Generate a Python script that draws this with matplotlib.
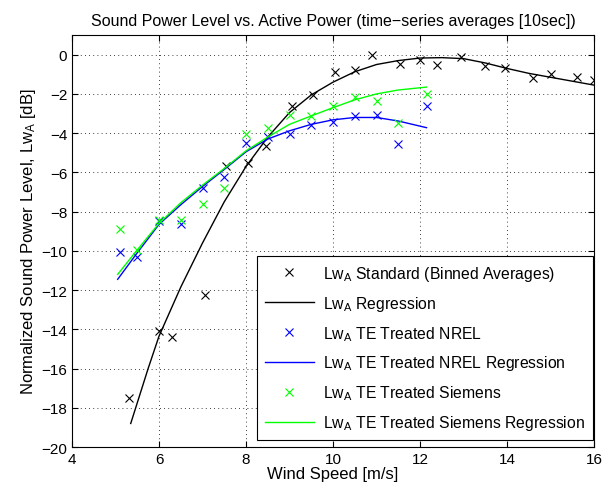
import matplotlib
matplotlib.use("Agg")

import matplotlib.pyplot as plt

plt.rcParams['font.family'] = ['Liberation Sans', 'DejaVu Sans']
plt.rcParams['mathtext.fontset'] = 'custom'
plt.rcParams['mathtext.rm'] = 'Liberation Sans'
plt.rcParams['mathtext.it'] = 'Liberation Sans'

# Standard (binned averages)
std_ws = [5.3, 6.0, 6.3, 7.05, 7.55, 8.05, 8.45, 9.05, 9.55, 10.05, 10.5,
          10.9, 11.55, 12.0, 12.4, 12.95, 13.5, 13.95, 14.6, 15.0, 15.6, 16.0]
std_lw = [-17.5, -14.1, -14.4, -12.25, -5.65, -5.5, -4.65, -2.6, -2.05, -0.9, -0.8,
          0.0, -0.45, -0.25, -0.5, -0.12, -0.58, -0.7, -1.2, -1.0, -1.15, -1.3]

# Standard regression curve
std_reg_ws = [5.35, 5.5, 5.75, 6.0, 6.5, 7.0, 7.5, 8.0, 8.5, 9.0, 9.5, 10.0, 10.5, 11.0,
              11.5, 12.0, 12.5, 13.0, 13.5, 14.0, 14.5, 15.0, 15.5, 16.0]
std_reg_lw = [-18.8, -17.75, -16.0, -14.35, -11.85, -9.6, -7.5, -5.7, -4.2, -2.95,
              -2.05, -1.4, -0.87, -0.5, -0.3, -0.17, -0.15, -0.2, -0.42, -0.7,
              -0.95, -1.15, -1.35, -1.55]

# TE treated
te_ws = [5.1, 5.5, 6.0, 6.5, 7.0, 7.5, 8.0, 8.5, 9.0, 9.5, 10.0, 10.5, 11.0, 11.5, 12.15]
nrel_lw = [-10.05, -10.3, -8.5, -8.65, -6.82, -6.22, -4.5, -4.22, -4.05, -3.6,
           -3.43, -3.12, -3.09, -4.53, -2.6]
siemens_lw = [-8.9, -9.98, -8.45, -8.42, -7.63, -6.82, -4.02, -3.72, -3.09, -3.15,
              -2.63, -2.17, -2.34, -3.49, -2.0]

te_reg_ws = [5.05, 5.5, 6.0, 6.5, 7.0, 7.5, 8.0, 8.5, 9.0, 9.5, 10.0, 10.5, 11.0, 11.5, 12.15]
nrel_reg_lw = [-11.45, -10.1, -8.65, -7.65, -6.72, -5.85, -4.95, -4.3, -3.88, -3.55,
               -3.32, -3.2, -3.2, -3.38, -3.72]
siemens_reg_lw = [-11.2, -9.95, -8.6, -7.55, -6.65, -5.8, -4.9, -4.2, -3.55, -3.12,
                  -2.7, -2.3, -2.0, -1.8, -1.65]

fig = plt.figure(figsize=(6.03, 4.89), dpi=100)
ax = fig.add_axes([0.1194, 0.0838, 0.8657, 0.8424])

ax.plot(std_ws, std_lw, 'x', color='k', ms=6, mew=0.8,
        label=r'Lw$_{\mathrm{A}}$ Standard (Binned Averages)')
ax.plot(std_reg_ws, std_reg_lw, '-', color='k', lw=1,
        label=r'Lw$_{\mathrm{A}}$ Regression')
ax.plot(te_ws, nrel_lw, 'x', color='#0000ff', ms=6, mew=0.8,
        label=r'Lw$_{\mathrm{A}}$ TE Treated NREL')
ax.plot(te_reg_ws, nrel_reg_lw, '-', color='#0000ff', lw=1,
        label=r'Lw$_{\mathrm{A}}$ TE Treated NREL Regression')
ax.plot(te_ws, siemens_lw, 'x', color='#00ff00', ms=6, mew=0.8,
        label=r'Lw$_{\mathrm{A}}$ TE Treated Siemens')
ax.plot(te_reg_ws, siemens_reg_lw, '-', color='#00ff00', lw=1,
        label=r'Lw$_{\mathrm{A}}$ TE Treated Siemens Regression')

ax.set_xlim(4, 16)
ax.set_ylim(-20, 1)
ax.set_xticks(range(4, 17, 2))
ax.set_yticks(range(-20, 1, 2))
ax.grid(True, linestyle=(0, (1, 4)), color='k', lw=0.6)
ax.tick_params(direction='in', top=True, right=True, labelsize=11, length=4)
for s in ax.spines.values():
    s.set_linewidth(0.8)

ax.set_title('Sound Power Level vs. Active Power (time\u2212series averages [10sec])',
             fontsize=11.5, pad=7)
ax.set_xlabel('Wind Speed [m/s]', fontsize=12, labelpad=0)
ax.set_ylabel(r'Normalized Sound Power Level, Lw$_{\mathrm{A}}$ [dB]', fontsize=12,
              labelpad=2)

leg = ax.legend(loc='lower right', bbox_to_anchor=(0.998, 0.017), numpoints=1,
                fontsize=11.3, fancybox=False, framealpha=1, edgecolor='k',
                handlelength=3.1, handletextpad=0.6, borderaxespad=0,
                labelspacing=0.7, borderpad=0.5)
leg.get_frame().set_linewidth(0.8)

plt.savefig("out.png", dpi=100)
print("plot created")
